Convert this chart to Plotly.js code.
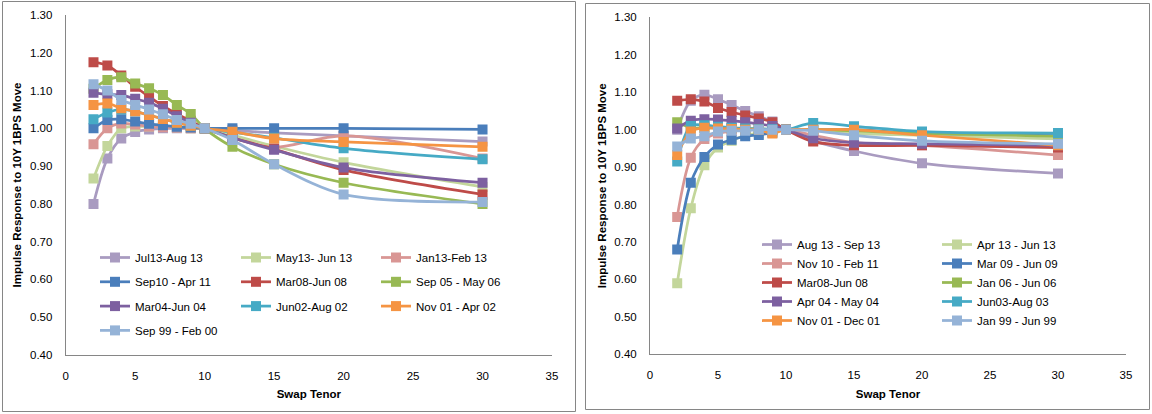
<!DOCTYPE html>
<html>
<head>
<meta charset="utf-8">
<script src="https://cdn.plot.ly/plotly-3.0.1.min.js"></script>
<style>html,body{margin:0;padding:0;background:#fff;}#chart{width:1152px;height:414px;}</style>
</head>
<body>
<div id="chart"></div>
<script>
// ---- data ----
var tenors = [2, 3, 4, 5, 6, 7, 8, 9, 10, 12, 15, 20, 30];

// left panel
var leftNames = ["Jul13-Aug 13", "May13- Jun 13", "Jan13-Feb 13", "Sep10 - Apr 11", "Mar08-Jun 08",
                 "Sep 05 - May 06", "Mar04-Jun 04", "Jun02-Aug 02", "Nov 01 - Apr 02", "Sep 99 - Feb 00"];
var jul13Aug13 = [0.800, 0.920, 0.973, 0.990, 0.997, 1.000, 1.000, 1.000, 1.000, 0.995, 0.988, 0.980, 0.965];
var may13Jun13 = [0.867, 0.953, 1.000, 1.005, 1.005, 1.005, 1.003, 1.000, 1.000, 0.982, 0.953, 0.910, 0.845];
var jan13Feb13 = [0.958, 1.000, 1.013, 1.010, 1.005, 1.003, 1.002, 1.000, 1.000, 0.975, 0.950, 0.980, 0.920];
var sep10Apr11 = [1.000, 1.022, 1.024, 1.018, 1.012, 1.008, 1.004, 1.002, 1.000, 1.000, 1.000, 1.000, 0.997];
var mar08Jun08 = [1.175, 1.166, 1.140, 1.110, 1.084, 1.059, 1.038, 1.020, 1.000, 0.975, 0.945, 0.890, 0.825];
var sep05May06 = [1.105, 1.128, 1.135, 1.119, 1.106, 1.088, 1.062, 1.038, 1.000, 0.951, 0.905, 0.856, 0.800];
var mar04Jun04 = [1.094, 1.090, 1.088, 1.078, 1.068, 1.052, 1.032, 1.015, 1.000, 0.975, 0.943, 0.896, 0.856];
var jun02Aug02 = [1.024, 1.042, 1.050, 1.045, 1.035, 1.025, 1.015, 1.007, 1.000, 0.990, 0.975, 0.947, 0.918];
var nov01Apr02 = [1.062, 1.066, 1.053, 1.045, 1.035, 1.025, 1.015, 1.007, 1.000, 0.991, 0.973, 0.964, 0.951];
var sep99Feb00 = [1.117, 1.100, 1.075, 1.062, 1.050, 1.037, 1.022, 1.012, 1.000, 0.969, 0.905, 0.825, 0.805];
var leftSeries = [jul13Aug13, may13Jun13, jan13Feb13, sep10Apr11, mar08Jun08,
                  sep05May06, mar04Jun04, jun02Aug02, nov01Apr02, sep99Feb00];

// right panel
var rightNames = ["Aug 13 - Sep 13", "Apr 13 - Jun 13", "Nov 10 - Feb 11", "Mar 09 - Jun 09", "Mar08-Jun 08",
                  "Jan 06 - Jun 06", "Apr 04 - May 04", "Jun03-Aug 03", "Nov 01 - Dec 01", "Jan 99 - Jun 99"];
var aug13Sep13 = [1.000, 1.077, 1.093, 1.081, 1.066, 1.050, 1.036, 1.022, 1.000, 0.970, 0.943, 0.910, 0.883];
var apr13Jun13 = [0.590, 0.790, 0.905, 0.952, 0.970, 0.985, 0.990, 0.995, 1.000, 1.000, 0.990, 0.985, 0.975];
var nov10Feb11 = [0.767, 0.925, 0.975, 0.990, 0.995, 1.000, 1.000, 1.000, 1.000, 0.985, 0.965, 0.958, 0.932];
var mar09Jun09 = [0.680, 0.858, 0.927, 0.960, 0.973, 0.982, 0.986, 0.992, 1.000, 1.000, 1.000, 0.990, 0.990];
var mar08Jun08R = [1.077, 1.081, 1.075, 1.058, 1.047, 1.038, 1.030, 1.020, 1.000, 0.968, 0.958, 0.958, 0.952];
var jan06Jun06 = [1.020, 1.005, 1.005, 1.005, 1.005, 1.003, 1.002, 1.000, 1.000, 1.000, 0.997, 0.990, 0.982];
var apr04May04 = [1.003, 1.024, 1.028, 1.027, 1.024, 1.020, 1.015, 1.010, 1.000, 0.977, 0.965, 0.962, 0.958];
var jun03Aug03 = [0.915, 1.010, 1.012, 1.008, 1.005, 1.003, 1.002, 1.001, 1.000, 1.018, 1.009, 0.995, 0.991];
var nov01Dec01 = [0.932, 0.995, 1.005, 1.003, 1.002, 1.000, 1.000, 0.990, 1.000, 1.000, 1.000, 0.985, 0.958];
var jan99Jun99 = [0.955, 0.976, 0.982, 0.995, 0.997, 0.997, 1.000, 1.000, 1.000, 0.997, 0.985, 0.970, 0.962];
var rightSeries = [aug13Sep13, apr13Jun13, nov10Feb11, mar09Jun09, mar08Jun08R,
                   jan06Jun06, apr04May04, jun03Aug03, nov01Dec01, jan99Jun99];

var palette = ["#A99BC0", "#C3D69B", "#D99694", "#4A7EBB", "#BE4B48",
               "#98B954", "#7D60A0", "#46AAC5", "#F59443", "#95B3D7"];

var yTickVals = [0.4, 0.5, 0.6, 0.7, 0.8, 0.9, 1.0, 1.1, 1.2, 1.3];
var xTickVals = [0, 5, 10, 15, 20, 25, 30, 35];

// ---- build ----
var W = 1152, H = 414;
function px(x) { return x / W; }
function py(y) { return (H - y) / H; }

var traces = [];
var leftLegendIds = ["legend", "legend2", "legend3"];
leftSeries.forEach(function (vals, i) {
  traces.push({
    type: "scatter", mode: "lines+markers",
    x: tenors, y: vals, name: leftNames[i],
    xaxis: "x", yaxis: "y",
    legend: leftLegendIds[i % 3], legendgroup: "L" + i,
    line: { color: palette[i], width: 2.75, shape: "spline", smoothing: 0.9 },
    marker: { symbol: "square", size: 10, color: palette[i] }
  });
});
var rightLegendIds = ["legend4", "legend5"];
rightSeries.forEach(function (vals, i) {
  traces.push({
    type: "scatter", mode: "lines+markers",
    x: tenors, y: vals, name: rightNames[i],
    xaxis: "x2", yaxis: "y2",
    legend: rightLegendIds[i % 2], legendgroup: "R" + i,
    line: { color: palette[i], width: 2.75, shape: "spline", smoothing: 0.9 },
    marker: { symbol: "square", size: 10, color: palette[i] }
  });
});

var FONT = "Liberation Sans, Arial, sans-serif";
var tickFont = { family: FONT, size: 11.5, color: "#000" };
var titleFont = { family: FONT, size: 11.5, color: "#000", weight: "bold" };
var legFont = { family: FONT, size: 11.5, color: "#000" };

function xAxis(domain, anchor) {
  return {
    domain: domain, anchor: anchor, range: [0, 35], tickvals: xTickVals,
    showgrid: false, zeroline: false, showline: true, linecolor: "#868686", linewidth: 1,
    ticks: "", tickfont: tickFont, ticklabelstandoff: 10, automargin: false,
    title: { text: "Swap Tenor", font: titleFont, standoff: 9 }, fixedrange: true
  };
}
function yAxis(domain, anchor) {
  return {
    domain: domain, anchor: anchor, range: [0.4, 1.3], tickvals: yTickVals, tickformat: ".2f",
    showgrid: false, zeroline: false, showline: true, linecolor: "#868686", linewidth: 1,
    ticks: "", tickfont: tickFont, ticklabelstandoff: 10, automargin: false,
    title: { text: "Impulse Response to 10Y 1BPS Move", font: titleFont, standoff: 5 }, fixedrange: true
  };
}
function legendAt(xPix, yPix, gap) {
  return {
    x: px(xPix), y: py(yPix), xanchor: "left", yanchor: "top", xref: "paper", yref: "paper",
    bgcolor: "rgba(0,0,0,0)", borderwidth: 0, font: legFont,
    traceorder: "grouped", tracegroupgap: gap, itemwidth: 30, itemclick: false, itemdoubleclick: false
  };
}

var layout = {
  width: W, height: H, margin: { l: 0, r: 0, t: 0, b: 0, pad: 0 },
  paper_bgcolor: "#fff", plot_bgcolor: "rgba(0,0,0,0)", showlegend: true,
  xaxis: xAxis([px(65.7), px(552)], "y"),
  yaxis: yAxis([py(355), py(15)], "x"),
  xaxis2: xAxis([px(650), px(1126)], "y2"),
  yaxis2: yAxis([py(354.3), py(17.3)], "x2"),
  legend: legendAt(95, 243, 5.3),
  legend2: legendAt(236, 243, 5.3),
  legend3: legendAt(376, 243, 5.3),
  legend4: legendAt(757, 230, 0),
  legend5: legendAt(937, 230, 0),
  shapes: [
    { type: "rect", xref: "paper", yref: "paper", x0: px(2.5), x1: px(575.5), y0: py(411.5), y1: py(1.5),
      line: { color: "#868686", width: 1 }, layer: "below" },
    { type: "rect", xref: "paper", yref: "paper", x0: px(585.5), x1: px(1149.5), y0: py(409.5), y1: py(3.5),
      line: { color: "#868686", width: 1 }, layer: "below" }
  ]
};

Plotly.newPlot("chart", traces, layout, { displayModeBar: false, staticPlot: true });
</script>
</body>
</html>
